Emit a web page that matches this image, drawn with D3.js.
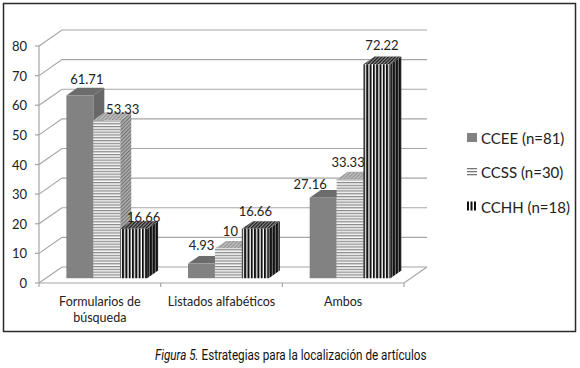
<!DOCTYPE html>
<html><head><meta charset="utf-8">
<script src="https://cdn.jsdelivr.net/npm/d3@7/dist/d3.min.js"></script>
<style>body{margin:0;background:#fff}svg{display:block}</style>
</head><body>
<script>
const categories = ["Formularios de|búsqueda", "Listados alfabéticos", "Ambos"];
const seriesNames = ["CCEE (n=81)", "CCSS (n=30)", "CCHH (n=18)"];
const ccee = [61.71, 4.93, 27.16];
const ccss = [53.33, 10, 33.33];
const cchh = [16.66, 16.66, 72.22];
const yTicks = [0, 10, 20, 30, 40, 50, 60, 70, 80];
const caption = ["Figura 5.", " Estrategias para la localización de artículos"];

// label placement nudges (presentation only), [series][category] -> [dx, dy]
const labelNudge = [
  [[7, -9], [0, -11], [-13, -6]],
  [[16, -4], [2, -10], [-2, -10]],
  [[10, -4], [0, -10], [5, -12]]
];

const values = [ccee, ccss, cchh];
const W = 580, H = 368;
const svg = d3.select("body").append("svg").attr("width", W).attr("height", H);
const font = "Lato, 'Open Sans', sans-serif";

// depth projection
const DX = 23, DY = 16;
const zF = 0.3, zB = 0.78;
const y = d3.scaleLinear().domain([0, 80]).range([283, 46]);
const x = d3.scaleBand().domain(d3.range(categories.length)).range([39, 404]).padding(0);
const xs = d3.scaleBand().domain(d3.range(seriesNames.length)).range([0, x.bandwidth()]).paddingInner(0).paddingOuter(0.76);
const P = (px, v, z) => [px + z * DX, y(v) - z * DY];

// patterns
const defs = svg.append("defs");
function pat(id, w, h, bg, draw, tr) {
  const p = defs.append("pattern").attr("id", id).attr("patternUnits", "userSpaceOnUse")
    .attr("width", w).attr("height", h);
  if (tr) p.attr("patternTransform", tr);
  p.append("rect").attr("width", w).attr("height", h).attr("fill", bg);
  draw(p);
}
pat("hFront", 4, 2.8, "#f4f4f4", p => p.append("rect").attr("y", 0).attr("width", 4).attr("height", 1.2).attr("fill", "#8a8a8a"));
pat("hSide", 2.6, 2.6, "#b0b0b0", p => p.append("rect").attr("width", 1.1).attr("height", 2.6).attr("fill", "#707070"), "rotate(45)");
pat("hTop", 2.6, 2.6, "#bcbcbc", p => p.append("rect").attr("width", 1).attr("height", 2.6).attr("fill", "#909090"), "rotate(45)");
pat("vFront", 3.3, 4, "#ffffff", p => p.append("rect").attr("x", 0).attr("width", 2.0).attr("height", 4).attr("fill", "#111"));
pat("vSide", 3.0, 4, "#6a6a6a", p => p.append("rect").attr("x", 0).attr("width", 1.8).attr("height", 4).attr("fill", "#111"));
pat("vTop", 2.4, 2.4, "#8a8a8a", p => p.append("rect").attr("width", 1.2).attr("height", 2.4).attr("fill", "#1a1a1a"), "rotate(45)");

const styles = [
  {front: "#828282", top: "#6c6c6c", side: "#686868"},
  {front: "url(#hFront)", top: "url(#hTop)", side: "url(#hSide)"},
  {front: "url(#vFront)", top: "url(#vTop)", side: "url(#vSide)"}
];

// frame
svg.append("rect").attr("x", 3.5).attr("y", 3.5).attr("width", 572).attr("height", 328)
  .attr("fill", "none").attr("stroke", "#2a2a2a").attr("stroke-width", 1.5);

const grid = svg.append("g").attr("stroke", "#a6a6a6").attr("stroke-width", 1.2).attr("fill", "none");
const x0 = x.range()[0], x1 = x.range()[1];
yTicks.forEach(v => {
  const a = P(x0, v, 0), b = P(x0, v, 1), c = P(x1, v, 1);
  grid.append("path").attr("d", `M${a}L${b}L${c}`);
  grid.append("line").attr("x1", x0 - 4).attr("x2", x0).attr("y1", y(v)).attr("y2", y(v));
});
grid.append("line").attr("x1", x0).attr("x2", x0).attr("y1", y(0)).attr("y2", y(80));
{
  const a = P(x0, 0, 0), b = P(x1, 0, 0), c = P(x1, 0, 1);
  grid.append("path").attr("d", `M${a}L${b}L${c}`);
  d3.range(categories.length + 1).forEach(i => {
    const px = i < categories.length ? x(i) : x1;
    grid.append("line").attr("x1", px).attr("x2", px).attr("y1", y(0)).attr("y2", y(0) + 4);
  });
}

// y tick labels
svg.append("g").selectAll("text").data(yTicks).join("text")
  .attr("x", 27).attr("y", d => y(d)).attr("text-anchor", "end").attr("dominant-baseline", "central")
  .attr("font-family", font).attr("font-size", 13).attr("fill", "#222").text(d => d);

// category labels
categories.forEach((c, i) => {
  const lines = c.split("|");
  const t = svg.append("text").attr("text-anchor", "middle").attr("font-family", font)
    .attr("font-size", 12.5).attr("fill", "#222");
  lines.forEach((l, j) => t.append("tspan").attr("x", x(i) + x.bandwidth() / 2).attr("y", 306 + j * 15.5).text(l));
});

// bars
const bars = svg.append("g");
const labels = [];
categories.forEach((c, i) => {
  seriesNames.forEach((s, k) => {
    const v = values[k][i];
    const L = x(i) + xs(k), R = L + xs.bandwidth();
    const st = styles[k];
    const fbl = P(L, 0, zF), fbr = P(R, 0, zF), ftl = P(L, v, zF), ftr = P(R, v, zF);
    const btl = P(L, v, zB), btr = P(R, v, zB), bbr = P(R, 0, zB);
    const g = bars.append("g").attr("stroke", "none");
    g.append("path").attr("d", `M${fbr}L${bbr}L${btr}L${ftr}Z`).attr("fill", st.side);
    g.append("path").attr("d", `M${ftl}L${ftr}L${btr}L${btl}Z`).attr("fill", st.top);
    g.append("path").attr("d", `M${fbl}L${fbr}L${ftr}L${ftl}Z`).attr("fill", st.front);
    const n = labelNudge[k][i];
    labels.push({v, x: (ftl[0] + ftr[0]) / 2 + n[0], y: btl[1] + n[1]});
  });
});
svg.append("g").selectAll("text").data(labels).join("text")
  .attr("x", d => d.x).attr("y", d => d.y).attr("text-anchor", "middle").attr("dominant-baseline", "central")
  .attr("font-family", font).attr("font-size", 13).attr("fill", "#222").text(d => d.v);

// legend
const lg = svg.append("g");
seriesNames.forEach((s, k) => {
  const cy = 137.5 + k * 34.5;
  const sx = 467;
  if (k === 0) lg.append("rect").attr("x", sx).attr("y", cy - 4.5).attr("width", 10).attr("height", 9).attr("fill", "#828282");
  if (k === 1) [0, 3, 6].forEach(o => lg.append("rect").attr("x", sx).attr("y", cy - 4 + o).attr("width", 10).attr("height", 1.3).attr("fill", "#777"));
  if (k === 2) [0, 3.5, 7].forEach(o => lg.append("rect").attr("x", sx + o).attr("y", cy - 5).attr("width", 2).attr("height", 9).attr("fill", "#111"));
  lg.append("text").attr("x", 481).attr("y", cy).attr("dominant-baseline", "central")
    .attr("font-family", font).attr("font-size", 15).attr("fill", "#222").text(s);
});

// caption (one text, horizontally condensed to the reference width)
const cap = svg.append("text").attr("x", 0).attr("y", 0)
  .attr("font-family", "'Liberation Sans Narrow', 'Roboto', sans-serif").attr("font-size", 14).attr("fill", "#111");
cap.append("tspan").attr("font-style", "italic").text(caption[0]);
cap.append("tspan").text(caption[1]);
const cw = cap.node().getComputedTextLength();
cap.attr("transform", `translate(155,360) scale(${272 / cw},1)`);
</script>
</body></html>
